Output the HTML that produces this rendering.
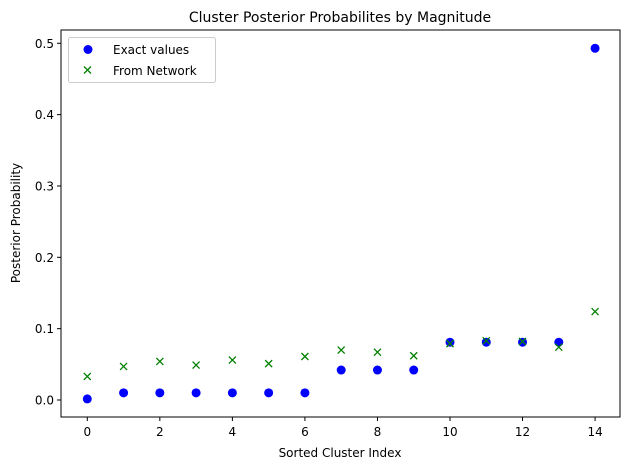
<!DOCTYPE html>
<html><head><meta charset="utf-8"><style>
body{margin:0;background:#fff;}
svg{display:block;font-family:"DejaVu Sans","Liberation Sans",sans-serif;}
</style></head><body>
<svg id="chart" width="630" height="470">
<rect width="630" height="470" fill="#fff"/>
<text x="340" y="22" font-size="14" text-anchor="middle">Cluster Posterior Probabilites by Magnitude</text>
<g id="ticks"></g>
<g id="marks"></g>
<rect x="61" y="30" width="559" height="387" fill="none" stroke="#000" stroke-width="1"/>
<text x="340" y="457" font-size="12" text-anchor="middle">Sorted Cluster Index</text>
<text transform="translate(20,223) rotate(-90)" font-size="12" text-anchor="middle">Posterior Probability</text>
<g>
<rect x="68.5" y="37.5" width="147" height="45" rx="2" fill="#fff" stroke="#ccc"/>
<circle cx="88" cy="49.5" r="4.5" fill="#0000ff"/>
<text x="113" y="54" font-size="12">Exact values</text>
<path d="M84,66.5 l7,7 M91,66.5 l-7,7" stroke="#008000" stroke-width="1.3"/>
<text x="113" y="75" font-size="12">From Network</text>
</g>
</svg>
<script>
const xValues=[0,1,2,3,4,5,6,7,8,9,10,11,12,13,14];
const exactValues=[0.0015,0.01,0.01,0.01,0.01,0.01,0.01,0.042,0.042,0.042,0.081,0.081,0.081,0.081,0.493];
const networkValues=[0.033,0.047,0.054,0.049,0.056,0.051,0.061,0.070,0.067,0.062,0.079,0.083,0.082,0.074,0.124];
const xTicks=[0,2,4,6,8,10,12,14];
const yTicks=[0.0,0.1,0.2,0.3,0.4,0.5];
const NS='http://www.w3.org/2000/svg';
function sx(v){return 87.3+v*36.27;}
function sy(v){return 400-v*713.4;}
function mk(tag,attrs,parent){const e=document.createElementNS(NS,tag);for(const k in attrs)e.setAttribute(k,attrs[k]);parent.appendChild(e);return e;}
const tg=document.getElementById('ticks'),mg=document.getElementById('marks');
xTicks.forEach(t=>{
 const l=mk('line',{x1:sx(t),x2:sx(t),y1:417,y2:421,stroke:'#000'},tg);
 
 
 const tx=mk('text',{x:sx(t),y:436,'font-size':12,'text-anchor':'middle'},tg);tx.textContent=t;
 
 
});
yTicks.forEach(t=>{
 const l=mk('line',{x1:57,x2:61,y1:sy(t),y2:sy(t),stroke:'#000'},tg);
 
 
 const tx=mk('text',{x:54,y:sy(t)+4.5,'font-size':12,'text-anchor':'end'},tg);tx.textContent=t.toFixed(1);
 
 
});
xValues.forEach((x,i)=>{
 const c=mk('circle',{cx:sx(x),cy:sy(exactValues[i]),r:4.5,fill:'#0000ff'},mg);
 
 
});
xValues.forEach((x,i)=>{
 const px=sx(x),py=sy(networkValues[i]);
 const p=mk('path',{d:`M${px-3.5},${py-3.5} L${px+3.5},${py+3.5} M${px+3.5},${py-3.5} L${px-3.5},${py+3.5}`,stroke:'#008000','stroke-width':1.3},mg);
 
 
});
</script>
</body></html>
